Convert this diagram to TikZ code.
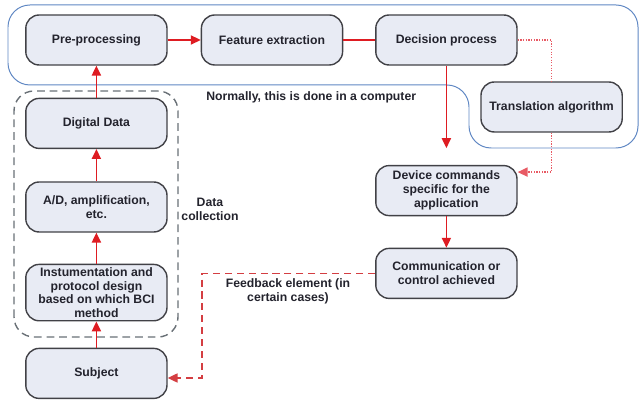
\documentclass[tikz,border=0pt]{standalone}
\usepackage{fontspec}
\setmainfont{Liberation Sans}
\definecolor{bcired}{RGB}{222,28,34}
\definecolor{bcipink}{RGB}{232,90,100}
\definecolor{bcifb}{RGB}{212,62,66}
\definecolor{bciblue}{RGB}{95,135,195}
\definecolor{bcigray}{RGB}{65,65,70}
\definecolor{bcidash}{RGB}{105,112,118}
\definecolor{bcifill}{RGB}{232,235,244}
\definecolor{bcitext}{RGB}{35,35,45}
\usetikzlibrary{arrows.meta,positioning}

\begin{document}
\begin{tikzpicture}[
    stagebox/.style={rectangle, draw=bcigray, fill=bcifill, rounded corners=9.5pt,
                     line width=1pt, font=\bfseries\fontsize{8.7}{9.9}\selectfont,
                     text=bcitext, minimum width=3.53cm, minimum height=1.25cm,
                     inner sep=2pt, align=center},
    notelbl/.style={font=\bfseries\fontsize{8.7}{9.9}\selectfont, text=bcitext, align=center},
    tip/.style={-{Triangle[length=7pt,width=6.5pt]}},
    flow/.style={tip, line width=1pt, bcired},
    dotline/.style={densely dotted, line width=0.9pt, bcipink},
    fbline/.style={dash pattern=on 5pt off 3.5pt, line width=0.9pt, bcifb},
    region/.style={draw=bciblue, line width=0.7pt, rounded corners=0.55cm},
    collect/.style={draw=bcidash, line width=1pt, dash pattern=on 5.5pt off 3.5pt,
                    rounded corners=0.5cm}
  ]
    \useasboundingbox (0,0) rectangle (16.05,10.025);

    % --- computer region and data collection frame ---
    \draw[region] (0.2,9.9) -- (15.95,9.9) -- (15.95,6.325) -- (11.725,6.325)
      -- (11.725,7.9) -- (0.2,7.9) -- cycle;
    \draw[collect] (0.35,1.6) rectangle (4.45,7.75);

    % --- processing chain ---
    \node[stagebox] (pre)   at (2.41, 9.025) {Pre-processing};
    \node[stagebox] (feat)  at (6.80, 9.025) {Feature extraction};
    \node[stagebox] (dec)   at (11.16,9.025) {Decision process};
    \node[stagebox] (trans) at (13.79,7.35)  {Translation algorithm};

    % --- data collection ---
    \node[stagebox] (digi)  at (2.41,6.94) {Digital Data};
    \node[stagebox] (adc)   at (2.41,4.85) {A/D, amplification,\\etc.};
    \node[stagebox] (instr) at (2.41,2.71) {Instumentation and\\protocol design\\based on which BCI\\method};
    \node[stagebox] (subj)  at (2.41,0.69) {Subject};

    % --- output side ---
    \node[stagebox] (dev)  at (11.16,5.26) {Device commands\\specific for the\\application};
    \node[stagebox] (comm) at (11.16,3.19) {Communication or\\control achieved};

    % Labels
    \node[notelbl] (pclbl)  at (7.78,7.60) {Normally, this is done in a computer};
    \node[notelbl] (dclbl)  at (5.25,4.78) {Data\\collection};
    \node[notelbl] (fblbl)  at (7.20,2.75) {Feedback element (in\\certain cases)};

    % Arrows
    \draw[flow] (subj) -- (instr);
    \draw[flow] (instr) -- (adc);
    \draw[flow] (adc) -- (digi);
    \draw[flow] (digi) -- (pre);
    \draw[flow] (pre) -- (feat);
    \draw[line width=1pt, bcired] (feat) -- (dec);
    \draw[flow, shorten >=0.42cm] (dec) -- (dev);
    \draw[flow] (dev) -- (comm);

    % translation branch
    \draw[dotline] (dec.east) -| (trans.north);
    \draw[dotline, tip] (trans.south) |- ([yshift=-0.18cm]dev.north east);

    % feedback
    \coordinate (fbk) at (5.05,0.575);
    \draw[fbline, tip] (comm.west) -| (fbk) -- (subj.east |- fbk);
  \end{tikzpicture}
\end{document}
